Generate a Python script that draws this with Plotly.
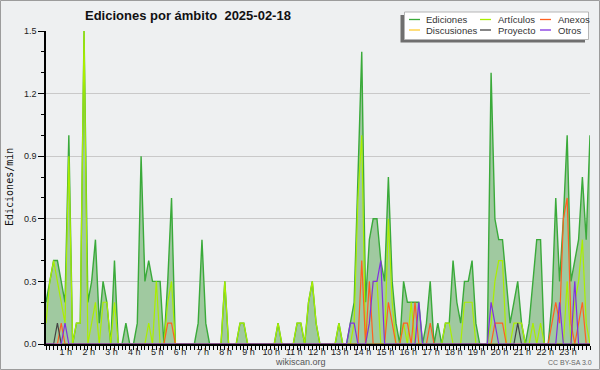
import plotly.graph_objects as go

# ---------------- data (10-minute slots, edits per minute) ----------------
SLOT_MINUTES = list(range(0, 1440, 10))          # 144 slots, 00:00 .. 23:50

EDICIONES = [
    0.2, 0.3, 0.4, 0.4, 0.3, 0.2, 1.0, 0.0, 0.1, 0.1, 1.5, 0.2,
    0.3, 0.5, 0.1, 0.3, 0.2, 0.0, 0.4, 0.0, 0.0, 0.1, 0.0, 0.0,
    0.1, 0.9, 0.3, 0.4, 0.3, 0.3, 0.3, 0.0, 0.3, 0.7, 0.0, 0.0,
    0.0, 0.0, 0.0, 0.0, 0.1, 0.5, 0.1, 0.0, 0.0, 0.0, 0.0, 0.3,
    0.0, 0.0, 0.0, 0.1, 0.1, 0.0, 0.0, 0.0, 0.0, 0.0, 0.0, 0.0,
    0.0, 0.1, 0.0, 0.0, 0.0, 0.0, 0.1, 0.1, 0.0, 0.2, 0.3, 0.1,
    0.0, 0.0, 0.0, 0.0, 0.0, 0.1, 0.0, 0.0, 0.1, 0.2, 0.8, 1.4,
    0.2, 0.5, 0.6, 0.6, 0.4, 0.3, 0.8, 0.3, 0.1, 0.0, 0.3, 0.2,
    0.2, 0.2, 0.2, 0.0, 0.1, 0.3, 0.0, 0.1, 0.0, 0.1, 0.1, 0.4,
    0.2, 0.1, 0.3, 0.3, 0.4, 0.1, 0.0, 0.0, 0.0, 1.3, 0.6, 0.5,
    0.5, 0.3, 0.1, 0.2, 0.3, 0.1, 0.0, 0.1, 0.3, 0.5, 0.5, 0.0,
    0.0, 0.2, 0.7, 0.3, 0.6, 1.0, 0.3, 0.4, 0.5, 0.8, 0.5, 1.0,
]

ARTICULOS = [
    0.1, 0.3, 0.4, 0.3, 0.2, 0.1, 0.9, 0.0, 0.1, 0.1, 1.5, 0.0,
    0.1, 0.2, 0.0, 0.2, 0.2, 0.0, 0.2, 0.0, 0.0, 0.0, 0.0, 0.0,
    0.0, 0.0, 0.0, 0.1, 0.0, 0.3, 0.0, 0.0, 0.2, 0.3, 0.0, 0.0,
    0.0, 0.0, 0.0, 0.0, 0.0, 0.0, 0.0, 0.0, 0.0, 0.0, 0.0, 0.3,
    0.0, 0.0, 0.0, 0.1, 0.1, 0.0, 0.0, 0.0, 0.0, 0.0, 0.0, 0.0,
    0.0, 0.1, 0.0, 0.0, 0.0, 0.0, 0.1, 0.1, 0.0, 0.2, 0.3, 0.1,
    0.0, 0.0, 0.0, 0.0, 0.0, 0.1, 0.0, 0.0, 0.0, 0.1, 0.7, 1.0,
    0.0, 0.1, 0.3, 0.3, 0.0, 0.0, 0.6, 0.2, 0.0, 0.0, 0.1, 0.0,
    0.2, 0.0, 0.0, 0.0, 0.0, 0.0, 0.0, 0.0, 0.0, 0.1, 0.1, 0.0,
    0.0, 0.0, 0.2, 0.2, 0.2, 0.0, 0.0, 0.0, 0.0, 0.1, 0.3, 0.4,
    0.4, 0.0, 0.0, 0.1, 0.1, 0.1, 0.0, 0.0, 0.1, 0.0, 0.1, 0.0,
    0.0, 0.0, 0.0, 0.0, 0.0, 0.3, 0.0, 0.2, 0.3, 0.5, 0.1, 0.0,
]

ANEXOS = [
    0.0, 0.0, 0.0, 0.0, 0.1, 0.0, 0.0, 0.0, 0.0, 0.0, 0.0, 0.0,
    0.0, 0.0, 0.0, 0.0, 0.0, 0.0, 0.0, 0.0, 0.0, 0.0, 0.0, 0.0,
    0.0, 0.0, 0.0, 0.0, 0.0, 0.0, 0.0, 0.0, 0.1, 0.1, 0.0, 0.0,
    0.0, 0.0, 0.0, 0.0, 0.0, 0.0, 0.0, 0.0, 0.0, 0.0, 0.0, 0.0,
    0.0, 0.0, 0.0, 0.0, 0.0, 0.0, 0.0, 0.0, 0.0, 0.0, 0.0, 0.0,
    0.0, 0.0, 0.0, 0.0, 0.0, 0.0, 0.0, 0.0, 0.0, 0.0, 0.0, 0.0,
    0.0, 0.0, 0.0, 0.0, 0.0, 0.0, 0.0, 0.0, 0.0, 0.0, 0.0, 0.4,
    0.0, 0.3, 0.0, 0.0, 0.0, 0.0, 0.2, 0.1, 0.0, 0.0, 0.1, 0.1,
    0.0, 0.2, 0.0, 0.0, 0.0, 0.1, 0.0, 0.0, 0.0, 0.0, 0.0, 0.0,
    0.0, 0.0, 0.0, 0.0, 0.0, 0.0, 0.0, 0.0, 0.0, 0.0, 0.1, 0.1,
    0.1, 0.0, 0.0, 0.0, 0.0, 0.0, 0.0, 0.0, 0.0, 0.0, 0.0, 0.0,
    0.0, 0.1, 0.2, 0.1, 0.6, 0.7, 0.1, 0.0, 0.1, 0.2, 0.0, 0.0,
]

DISCUSIONES = [0.0] * 144   # no visible activity in the reference

PROYECTO = [
    0.0, 0.0, 0.0, 0.1, 0.0, 0.0, 0.0, 0.0, 0.0, 0.0, 0.0, 0.0,
    0.0, 0.0, 0.0, 0.0, 0.0, 0.0, 0.0, 0.0, 0.0, 0.0, 0.0, 0.0,
    0.0, 0.0, 0.0, 0.0, 0.0, 0.0, 0.0, 0.0, 0.0, 0.0, 0.0, 0.0,
    0.0, 0.0, 0.0, 0.0, 0.0, 0.0, 0.0, 0.0, 0.0, 0.0, 0.0, 0.0,
    0.0, 0.0, 0.0, 0.0, 0.0, 0.0, 0.0, 0.0, 0.0, 0.0, 0.0, 0.0,
    0.0, 0.0, 0.0, 0.0, 0.0, 0.0, 0.0, 0.0, 0.0, 0.0, 0.0, 0.0,
    0.0, 0.0, 0.0, 0.0, 0.0, 0.0, 0.0, 0.0, 0.0, 0.0, 0.0, 0.0,
    0.0, 0.0, 0.0, 0.0, 0.0, 0.0, 0.0, 0.0, 0.0, 0.0, 0.0, 0.0,
    0.0, 0.0, 0.0, 0.0, 0.0, 0.0, 0.0, 0.0, 0.0, 0.0, 0.0, 0.0,
    0.0, 0.0, 0.0, 0.0, 0.0, 0.0, 0.0, 0.0, 0.0, 0.0, 0.0, 0.0,
    0.0, 0.0, 0.0, 0.0, 0.1, 0.0, 0.0, 0.0, 0.0, 0.0, 0.0, 0.0,
    0.0, 0.0, 0.0, 0.0, 0.0, 0.0, 0.0, 0.0, 0.0, 0.0, 0.0, 0.0,
]

OTROS = [
    0.0, 0.0, 0.0, 0.0, 0.0, 0.1, 0.0, 0.0, 0.0, 0.0, 0.0, 0.0,
    0.0, 0.0, 0.0, 0.0, 0.0, 0.0, 0.0, 0.0, 0.0, 0.0, 0.0, 0.0,
    0.0, 0.0, 0.0, 0.0, 0.0, 0.0, 0.0, 0.0, 0.0, 0.0, 0.0, 0.0,
    0.0, 0.0, 0.0, 0.0, 0.0, 0.0, 0.0, 0.0, 0.0, 0.0, 0.0, 0.0,
    0.0, 0.0, 0.0, 0.0, 0.0, 0.0, 0.0, 0.0, 0.0, 0.0, 0.0, 0.0,
    0.0, 0.0, 0.0, 0.0, 0.0, 0.0, 0.0, 0.0, 0.0, 0.0, 0.0, 0.0,
    0.0, 0.0, 0.0, 0.0, 0.0, 0.0, 0.0, 0.0, 0.1, 0.1, 0.0, 0.0,
    0.0, 0.1, 0.3, 0.3, 0.4, 0.0, 0.0, 0.0, 0.0, 0.0, 0.0, 0.0,
    0.0, 0.0, 0.2, 0.0, 0.0, 0.0, 0.0, 0.0, 0.0, 0.0, 0.0, 0.0,
    0.0, 0.0, 0.0, 0.0, 0.0, 0.0, 0.0, 0.0, 0.0, 0.2, 0.1, 0.0,
    0.0, 0.0, 0.0, 0.0, 0.0, 0.0, 0.0, 0.0, 0.0, 0.0, 0.0, 0.0,
    0.0, 0.0, 0.0, 0.2, 0.0, 0.0, 0.0, 0.3, 0.0, 0.0, 0.0, 0.0,
]

SERIES_NAMES = ["Ediciones", "Artículos", "Anexos", "Discusiones", "Proyecto", "Otros"]
SERIES_VALUES = [EDICIONES, ARTICULOS, ANEXOS, DISCUSIONES, PROYECTO, OTROS]
SERIES_COLORS = ["#3aaa3a", "#aaee00", "#ff6020", "#ffcc33", "#444444", "#8030e0"]

HOUR_TICKS = [60 * h for h in range(1, 24)]
HOUR_LABELS = [f"{h} h" for h in range(1, 24)]
Y_TICKS = [0.0, 0.3, 0.6, 0.9, 1.2, 1.5]
Y_LABELS = ["0.0", "0.3", "0.6", "0.9", "1.2", "1.5"]

TITLE = "Ediciones por ámbito\u00a0\u00a02025-02-18"
Y_TITLE = "Ediciones/min"

# ---------------- figure ----------------
W, H = 600, 370
ML, MR, MT, MB = 46, 10, 31, 26
PW, PH = W - ML - MR, H - MT - MB
BG = "#eef0f1"
FONT = "Liberation Sans"


def px(xp):
    return (xp - ML) / PW


def py(yp):
    return (H - MB - yp) / PH


fig = go.Figure()
for i, (name, vals, col) in enumerate(zip(SERIES_NAMES, SERIES_VALUES, SERIES_COLORS)):
    if i == 0:
        fig.add_trace(go.Scatter(x=SLOT_MINUTES, y=vals, name=name, mode="lines",
                                 line=dict(color=col, width=1.4),
                                 fill="tozeroy", fillcolor="#a0c9a0",
                                 showlegend=False))
    else:
        fig.add_trace(go.Scatter(x=SLOT_MINUTES, y=vals, name=name, mode="lines",
                                 line=dict(color=col, width=1.2),
                                 showlegend=False))

shapes = []
annotations = []

# outer frame
shapes.append(dict(type="rect", xref="paper", yref="paper",
                   x0=px(0.5), x1=px(599.5), y0=py(369.5), y1=py(0.5),
                   line=dict(color="#9c9c9c", width=1), fillcolor="rgba(0,0,0,0)",
                   layer="above"))

# legend box (shadow + white box)
shapes.append(dict(type="rect", xref="paper", yref="paper",
                   x0=px(400.5), x1=px(585), y0=py(42.5), y1=py(15),
                   line=dict(width=0), fillcolor="#6f6f6f", layer="above"))
shapes.append(dict(type="rect", xref="paper", yref="paper",
                   x0=px(404.5), x1=px(588.5), y0=py(39.5), y1=py(12),
                   line=dict(color="#b5b5b5", width=1), fillcolor="white", layer="above"))

col_line_x = [409, 480, 540]
col_text_x = [424, 496, 556]
row_y = [19.5, 30]
for k, (name, col) in enumerate(zip(SERIES_NAMES, SERIES_COLORS)):
    r, c = divmod(k, 3)
    shapes.append(dict(type="line", xref="paper", yref="paper",
                       x0=px(col_line_x[c]), x1=px(col_line_x[c] + 11),
                       y0=py(row_y[r]), y1=py(row_y[r]),
                       line=dict(color=col, width=1.3), layer="above"))
    annotations.append(dict(xref="paper", yref="paper", x=px(col_text_x[c]), y=py(row_y[r]),
                            text=name, showarrow=False, xanchor="left", yanchor="middle",
                            font=dict(family=FONT, size=9.5, color="#333333")))

# title
annotations.append(dict(xref="paper", yref="paper", x=px(188), y=py(15),
                        text=TITLE, showarrow=False, xanchor="center", yanchor="middle",
                        font=dict(family=FONT, size=13, color="#111111", weight="bold")))
# y-axis title
annotations.append(dict(xref="paper", yref="paper", x=px(9), y=py(187),
                        text=Y_TITLE, showarrow=False, textangle=-90,
                        xanchor="center", yanchor="middle",
                        font=dict(family="DejaVu Sans Mono", size=10, color="#111111")))
# footer texts
annotations.append(dict(xref="paper", yref="paper", x=px(300), y=py(362),
                        text="wikiscan.org", showarrow=False, xanchor="center", yanchor="middle",
                        font=dict(family=FONT, size=9, color="#555555")))
annotations.append(dict(xref="paper", yref="paper", x=px(570), y=py(362.5),
                        text="CC BY-SA 3.0", showarrow=False, xanchor="center", yanchor="middle",
                        font=dict(family=FONT, size=7, color="#666666")))

fig.update_layout(
    width=W, height=H,
    margin=dict(l=ML, r=MR, t=MT, b=MB, pad=0),
    paper_bgcolor=BG, plot_bgcolor=BG,
    showlegend=False,
    shapes=shapes, annotations=annotations,
    xaxis=dict(range=[0, 1430], showgrid=False, zeroline=False,
               showline=True, linecolor="black", linewidth=1.5,
               ticks="outside", ticklen=4, tickwidth=1, tickcolor="black",
               tickmode="array", tickvals=HOUR_TICKS, ticktext=HOUR_LABELS,
               tickfont=dict(family=FONT, size=9, color="#222222"),
               ticklabelshift=-3, ticklabelstandoff=-6,
               minor=dict(tickmode="linear", tick0=0, dtick=10, ticks="outside",
                          ticklen=4, tickwidth=1, tickcolor="black", showgrid=False)),
    yaxis=dict(range=[0, 1.5], showgrid=True, gridcolor="#c9c9c9", gridwidth=1,
               zeroline=False, showline=True, linecolor="black", linewidth=1.5,
               ticks="outside", ticklen=6, tickwidth=1, tickcolor="black",
               tickmode="array", tickvals=Y_TICKS, ticktext=Y_LABELS,
               tickfont=dict(family=FONT, size=9, color="#222222"),
               minor=dict(tickmode="linear", tick0=0, dtick=0.1, ticks="outside",
                          ticklen=3, tickwidth=1, tickcolor="black", showgrid=False)),
)

fig.write_html("out.html", config={"displayModeBar": False},
               post_script="document.body.style.margin='0px';document.body.style.background='%s';" % BG)
